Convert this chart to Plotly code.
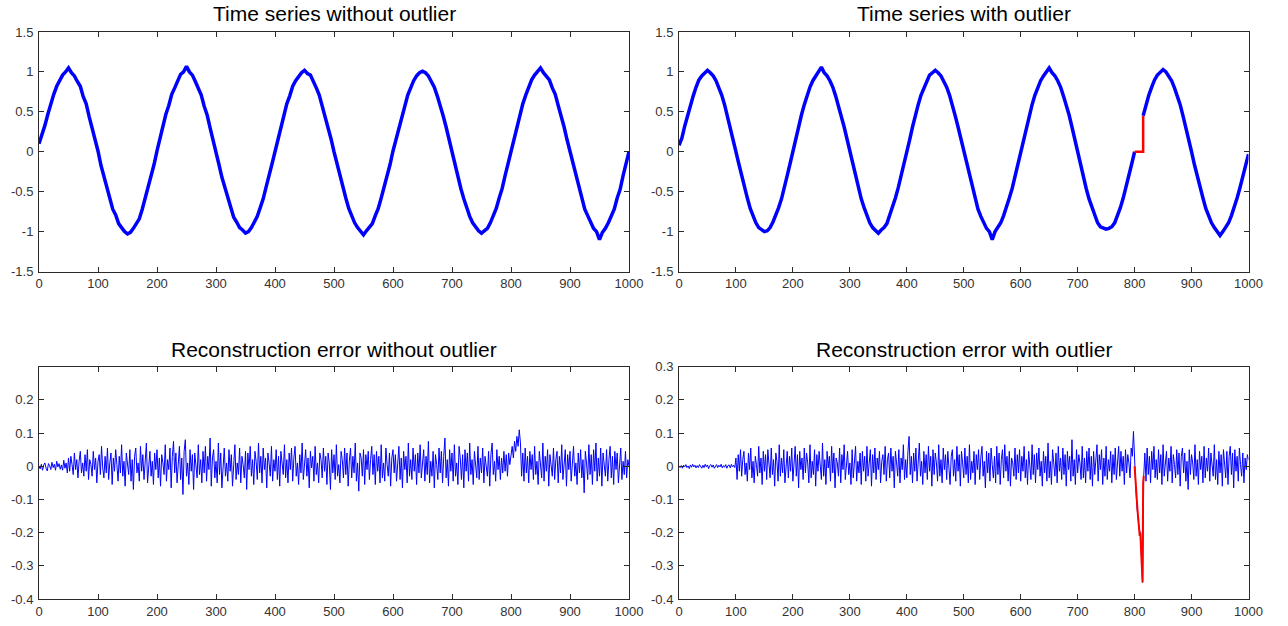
import plotly.graph_objects as go

# ---------------- data ----------------
X_TOP = list(range(0, 1001, 5))
X_ERR = list(range(0, 1001, 2))

ts_clean = [
    0.10, 0.20, 0.33, 0.47, 0.61, 0.72, 0.82, 0.90, 0.96, 1.00, 1.05, 0.99, 0.95, 0.88, 0.82, 0.69, 0.60, 0.44, 0.31, 0.14,
    0.01, -0.17, -0.30, -0.46, -0.60, -0.72, -0.79, -0.90, -0.95, -1.00, -1.03, -1.01, -0.96, -0.90, -0.84, -0.72, -0.58, -0.46, -0.30, -0.16,
    0.01, 0.17, 0.30, 0.47, 0.58, 0.72, 0.80, 0.90, 0.97, 1.00, 1.07, 1.00, 0.96, 0.88, 0.80, 0.71, 0.57, 0.46, 0.30, 0.16,
    -0.02, -0.16, -0.32, -0.45, -0.60, -0.70, -0.82, -0.88, -0.95, -0.98, -1.02, -1.00, -0.95, -0.88, -0.81, -0.70, -0.59, -0.44, -0.31, -0.15,
    0.00, 0.16, 0.31, 0.45, 0.60, 0.70, 0.82, 0.89, 0.95, 0.99, 1.02, 0.98, 0.96, 0.89, 0.80, 0.71, 0.58, 0.46, 0.30, 0.16,
    0.00, -0.15, -0.31, -0.46, -0.58, -0.71, -0.81, -0.89, -0.95, -1.00, -1.04, -0.99, -0.95, -0.90, -0.80, -0.71, -0.58, -0.45, -0.31, -0.16,
    0.01, 0.15, 0.32, 0.45, 0.59, 0.71, 0.80, 0.89, 0.95, 0.99, 1.01, 0.99, 0.95, 0.88, 0.81, 0.70, 0.59, 0.45, 0.31, 0.15,
    -0.01, -0.16, -0.31, -0.46, -0.59, -0.71, -0.81, -0.89, -0.95, -0.99, -1.02, -0.99, -0.96, -0.89, -0.81, -0.71, -0.58, -0.46, -0.30, -0.15,
    0.02, 0.17, 0.31, 0.47, 0.60, 0.71, 0.82, 0.90, 0.96, 1.00, 1.05, 0.99, 0.95, 0.90, 0.80, 0.72, 0.58, 0.46, 0.31, 0.15,
    0.00, -0.16, -0.31, -0.46, -0.59, -0.72, -0.80, -0.89, -0.96, -1.00, -1.10, -1.01, -0.96, -0.89, -0.80, -0.72, -0.58, -0.47, -0.30, -0.15,
    0.00,
]

ts_outlier = [
    0.08, 0.17, 0.32, 0.45, 0.60, 0.70, 0.81, 0.90, 0.95, 0.99, 1.02, 0.99, 0.95, 0.89, 0.80, 0.71, 0.59, 0.45, 0.32, 0.15,
    0.00, -0.15, -0.31, -0.45, -0.58, -0.71, -0.80, -0.89, -0.95, -0.98, -1.00, -0.99, -0.95, -0.88, -0.80, -0.70, -0.59, -0.46, -0.30, -0.15,
    0.01, 0.16, 0.31, 0.46, 0.59, 0.71, 0.81, 0.89, 0.95, 1.00, 1.06, 0.99, 0.95, 0.89, 0.81, 0.70, 0.58, 0.46, 0.31, 0.16,
    0.00, -0.16, -0.31, -0.46, -0.59, -0.70, -0.81, -0.89, -0.95, -0.99, -1.02, -0.98, -0.95, -0.90, -0.80, -0.71, -0.58, -0.45, -0.31, -0.16,
    0.00, 0.15, 0.31, 0.46, 0.59, 0.71, 0.80, 0.89, 0.96, 0.99, 1.02, 0.99, 0.95, 0.88, 0.81, 0.71, 0.59, 0.45, 0.31, 0.16,
    0.00, -0.16, -0.30, -0.45, -0.59, -0.72, -0.81, -0.89, -0.96, -1.00, -1.10, -1.00, -0.95, -0.89, -0.80, -0.70, -0.58, -0.46, -0.31, -0.15,
    0.00, 0.16, 0.31, 0.45, 0.59, 0.71, 0.81, 0.89, 0.95, 1.00, 1.05, 0.99, 0.95, 0.89, 0.81, 0.70, 0.59, 0.46, 0.31, 0.15,
    0.00, -0.16, -0.31, -0.46, -0.59, -0.70, -0.81, -0.89, -0.94, -0.96, -0.97, -0.96, -0.94, -0.89, -0.80, -0.70, -0.58, -0.45, -0.30, -0.15,
    0.00, None, None, 0.45, 0.60, 0.71, 0.81, 0.90, 0.96, 0.99, 1.03, 1.00, 0.95, 0.89, 0.80, 0.71, 0.59, 0.45, 0.31, 0.16,
    0.00, -0.16, -0.31, -0.46, -0.58, -0.71, -0.81, -0.89, -0.95, -1.00, -1.05, -1.00, -0.95, -0.89, -0.80, -0.70, -0.58, -0.45, -0.30, -0.15,
    -0.03,
]

err_clean = [
    0.000, -0.008, 0.006, -0.012, 0.004, 0.010, -0.006, -0.014, 0.008, 0.002, -0.010, 0.012, -0.004, 0.006, -0.012, 0.015, -0.002, 0.008, -0.009, 0.004,
    -0.012, 0.018, -0.006, 0.010, -0.020, 0.025, -0.015, 0.030, 0.005, -0.025, 0.040, -0.010, 0.020, -0.035, 0.015, 0.045, -0.020, 0.010, -0.030, 0.035,
    -0.015, 0.050, -0.040, 0.020, 0.005, -0.030, 0.045, -0.010, 0.025, -0.050, 0.015, 0.035, -0.025, 0.060, -0.005, -0.035, 0.030, -0.020, 0.055, -0.040,
    0.010, 0.040, -0.055, 0.025, -0.015, 0.050, 0.005, -0.045, 0.030, -0.020, 0.065, -0.030, 0.015, -0.060, 0.040, 0.000, -0.025, 0.050, -0.045, 0.020,
    -0.070, 0.030, 0.055, -0.020, 0.010, -0.045, 0.060, -0.015, 0.035, -0.040, 0.020, 0.070, -0.050, 0.005, 0.045, -0.030, 0.015, -0.055, 0.040, -0.010,
    0.050, -0.035, 0.025, -0.060, 0.035, 0.010, -0.025, 0.065, -0.045, 0.020, -0.010, 0.055, -0.065, 0.030, 0.075, -0.020, 0.040, -0.050, 0.015, 0.060,
    -0.040, 0.025, -0.085, 0.045, 0.080, -0.030, 0.010, -0.055, 0.050, -0.015, 0.035, -0.070, 0.040, 0.005, -0.035, 0.065, -0.025, 0.020, -0.050, 0.045,
    -0.020, 0.060, -0.045, 0.030, -0.010, 0.085, -0.060, 0.025, 0.050, -0.035, 0.015, -0.050, 0.070, -0.025, 0.040, -0.065, 0.020, 0.055, -0.030, 0.010,
    -0.045, 0.050, -0.015, 0.035, -0.060, 0.025, 0.065, -0.040, 0.010, -0.025, 0.055, -0.050, 0.030, 0.005, -0.035, 0.045, -0.070, 0.040, -0.010, 0.060,
    -0.030, 0.020, -0.055, 0.045, 0.015, -0.040, 0.070, -0.020, 0.030, -0.050, 0.055, -0.010, 0.025, -0.065, 0.040, 0.010, -0.030, 0.060, -0.045, 0.020,
    -0.015, 0.050, -0.040, 0.030, -0.060, 0.045, 0.005, -0.025, 0.065, -0.035, 0.020, -0.050, 0.040, -0.010, 0.055, -0.045, 0.025, 0.060, -0.030, 0.010,
    -0.055, 0.035, -0.020, 0.070, -0.040, 0.015, 0.050, -0.030, 0.025, -0.065, 0.045, -0.005, 0.030, -0.045, 0.060, -0.025, 0.010, -0.050, 0.040, 0.020,
    -0.035, 0.055, -0.015, 0.030, -0.055, 0.040, 0.010, -0.070, 0.050, -0.020, 0.035, -0.040, 0.065, -0.030, 0.005, -0.050, 0.045, 0.020, -0.035, 0.055,
    -0.025, 0.040, -0.060, 0.015, 0.055, -0.035, 0.030, -0.020, 0.070, -0.045, 0.010, -0.075, 0.040, 0.025, -0.030, 0.050, -0.055, 0.035, -0.010, 0.045,
    -0.040, 0.020, 0.060, -0.025, 0.035, -0.055, 0.045, -0.015, 0.030, -0.050, 0.065, -0.035, 0.010, -0.045, 0.055, 0.005, -0.030, 0.040, -0.060, 0.025,
    0.050, -0.020, 0.035, -0.045, 0.015, 0.060, -0.040, 0.025, -0.065, 0.045, -0.010, 0.030, -0.050, 0.070, -0.030, 0.020, -0.040, 0.055, -0.015, 0.035,
    -0.055, 0.040, -0.020, 0.065, -0.035, 0.010, 0.050, -0.045, 0.030, -0.025, 0.075, -0.050, 0.015, -0.030, 0.045, -0.065, 0.035, 0.005, -0.040, 0.055,
    -0.020, 0.045, -0.050, 0.030, 0.085, -0.035, 0.020, -0.060, 0.050, -0.015, 0.040, -0.045, 0.065, -0.030, 0.010, -0.055, 0.060, 0.025, -0.040, 0.035,
    -0.065, 0.050, -0.015, 0.040, -0.045, 0.070, -0.025, 0.020, -0.055, 0.045, 0.010, -0.035, 0.060, -0.040, 0.025, -0.020, 0.055, -0.050, 0.030, 0.005,
    -0.030, 0.045, -0.060, 0.035, 0.070, -0.025, 0.015, -0.045, 0.050, -0.010, 0.030, -0.040, 0.025, -0.020, 0.045, -0.015, 0.035, -0.030, 0.040, 0.005,
    0.030, 0.060, 0.025, 0.075, 0.045, 0.090, 0.060, 0.110, 0.070, -0.030, 0.040, -0.045, 0.055, -0.020, 0.030, -0.050, 0.045, -0.010, 0.035, -0.040,
    0.060, -0.025, 0.015, -0.055, 0.045, 0.010, -0.035, 0.070, -0.045, 0.030, -0.015, 0.050, -0.060, 0.035, 0.005, -0.030, 0.055, -0.040, 0.020, 0.045,
    -0.050, 0.030, -0.020, 0.065, -0.040, 0.015, 0.050, -0.060, 0.035, -0.010, 0.045, -0.045, 0.025, 0.060, -0.030, 0.010, -0.055, 0.040, -0.020, 0.050,
    -0.035, 0.020, -0.080, 0.045, 0.010, -0.040, 0.065, -0.025, 0.035, -0.055, 0.050, -0.015, 0.070, -0.045, 0.025, -0.030, 0.055, -0.060, 0.040, 0.005,
    -0.030, 0.050, -0.045, 0.020, 0.060, -0.035, 0.030, -0.055, 0.045, -0.010, 0.040, -0.050, 0.025, 0.055, -0.040, 0.015, -0.025, 0.045, -0.035, 0.020,
    0.000,
]

err_outlier = [
    0.000, -0.004, 0.002, -0.006, 0.003, -0.002, 0.005, -0.004, 0.001, -0.007, 0.004, -0.003, 0.006, -0.002, 0.003, -0.005, 0.002, -0.004, 0.005, -0.001,
    -0.006, 0.003, -0.004, 0.006, -0.002, 0.004, -0.007, 0.002, 0.005, -0.003, 0.004, -0.006, 0.001, 0.005, -0.004, 0.003, -0.002, 0.006, -0.005, 0.002,
    -0.003, 0.005, -0.006, 0.002, 0.004, -0.005, 0.006, -0.002, 0.003, -0.004, 0.025, -0.040, 0.035, -0.015, 0.050, -0.030, 0.020, 0.045, -0.025, 0.010,
    -0.045, 0.040, -0.010, 0.055, -0.035, 0.015, -0.050, 0.030, 0.005, -0.030, 0.060, -0.020, 0.025, -0.055, 0.045, -0.015, 0.035, -0.040, 0.050, 0.010,
    -0.035, 0.055, -0.025, 0.020, -0.060, 0.040, 0.015, -0.045, 0.065, -0.030, 0.025, -0.020, 0.050, -0.050, 0.010, 0.045, -0.035, 0.030, -0.015, 0.055,
    -0.045, 0.020, 0.060, -0.030, 0.035, -0.065, 0.045, -0.010, 0.025, -0.040, 0.055, -0.020, 0.040, 0.010, -0.050, 0.065, -0.035, 0.015, -0.025, 0.050,
    -0.060, 0.035, -0.015, 0.045, 0.005, -0.040, 0.070, -0.030, 0.020, -0.055, 0.045, -0.005, 0.030, -0.045, 0.060, -0.020, 0.040, -0.065, 0.025, 0.010,
    -0.030, 0.055, -0.050, 0.035, -0.010, 0.065, -0.040, 0.020, 0.045, -0.025, 0.010, -0.055, 0.050, -0.035, 0.030, 0.060, -0.045, 0.015, -0.020, 0.040,
    -0.055, 0.045, -0.015, 0.030, -0.045, 0.060, -0.030, 0.010, 0.050, -0.060, 0.035, -0.020, 0.055, -0.040, 0.025, -0.010, 0.045, -0.050, 0.015, 0.035,
    -0.025, 0.060, -0.045, 0.020, 0.040, -0.035, 0.055, -0.015, 0.030, -0.065, 0.045, 0.010, -0.030, 0.050, -0.050, 0.025, -0.010, 0.065, -0.040, 0.020,
    -0.035, 0.045, 0.090, -0.025, 0.030, -0.050, 0.040, -0.015, 0.055, -0.045, 0.025, 0.070, -0.030, 0.015, -0.055, 0.045, -0.020, 0.035, -0.040, 0.060,
    -0.015, 0.030, -0.060, 0.050, -0.025, 0.040, 0.010, -0.045, 0.065, -0.030, 0.020, -0.050, 0.055, -0.010, 0.035, -0.040, 0.045, 0.005, -0.055, 0.030,
    0.050, -0.030, 0.020, -0.045, 0.060, -0.015, 0.035, -0.060, 0.045, 0.010, -0.035, 0.055, -0.025, 0.030, -0.050, 0.065, -0.040, 0.015, -0.020, 0.045,
    -0.055, 0.035, -0.010, 0.050, -0.040, 0.025, 0.060, -0.030, 0.015, -0.065, 0.045, -0.020, 0.040, -0.045, 0.055, 0.005, -0.035, 0.030, -0.050, 0.060,
    -0.025, 0.040, -0.055, 0.020, 0.050, -0.035, 0.065, -0.015, 0.030, -0.045, 0.045, -0.060, 0.025, 0.010, -0.030, 0.055, -0.040, 0.035, -0.020, 0.050,
    -0.045, 0.030, -0.015, 0.060, -0.035, 0.020, -0.055, 0.045, 0.005, -0.040, 0.065, -0.025, 0.035, -0.050, 0.040, -0.010, 0.055, -0.030, 0.015, -0.060,
    0.045, -0.020, 0.030, -0.045, 0.070, -0.035, 0.015, -0.055, 0.050, 0.010, -0.030, 0.040, -0.050, 0.060, -0.015, 0.025, -0.040, 0.055, -0.025, 0.035,
    -0.060, 0.045, -0.010, 0.030, -0.045, 0.080, -0.030, 0.020, -0.055, 0.050, -0.020, 0.035, 0.010, -0.040, 0.060, -0.035, 0.025, -0.050, 0.045, -0.015,
    0.055, -0.040, 0.030, -0.060, 0.045, -0.025, 0.015, 0.065, -0.045, 0.035, -0.010, 0.050, -0.055, 0.025, -0.030, 0.060, -0.040, 0.020, -0.015, 0.045,
    -0.050, 0.035, -0.025, 0.055, -0.040, 0.020, 0.060, -0.030, 0.045, -0.015, 0.030, -0.055, 0.050, -0.020, 0.035, 0.010, -0.035, 0.055, 0.030, 0.105,
    0.000, -0.060, -0.120, -0.150, -0.190, -0.200, -0.280, -0.350, -0.030, 0.040, -0.045, 0.055, -0.025, 0.030, -0.050, 0.045, -0.010, 0.060, -0.035, 0.020,
    -0.040, 0.050, -0.020, 0.035, -0.055, 0.065, -0.030, 0.015, 0.045, -0.045, 0.025, -0.015, 0.060, -0.050, 0.035, 0.005, -0.035, 0.050, -0.025, 0.040,
    -0.060, 0.030, 0.055, -0.020, 0.040, -0.045, 0.015, -0.070, 0.050, -0.025, 0.035, 0.010, -0.040, 0.065, -0.030, 0.020, -0.055, 0.045, -0.010, 0.030,
    -0.050, 0.060, -0.035, 0.025, -0.015, 0.055, -0.045, 0.040, 0.005, -0.030, 0.065, -0.040, 0.020, -0.055, 0.045, -0.020, 0.035, -0.060, 0.050, 0.010,
    -0.035, 0.045, -0.055, 0.030, 0.060, -0.025, 0.040, -0.065, 0.050, -0.015, 0.030, -0.045, 0.055, 0.005, -0.030, 0.040, -0.050, 0.025, -0.010, 0.035,
    0.020,
]

# outlier segments (highlighted in red)
out_ts_x = [800, 815, 815]
out_ts_y = [0.0, 0.0, 0.45]
out_err_x = list(range(800, 817))
out_err_y = [0.00, -0.03, -0.06, -0.10, -0.12, -0.13, -0.15, -0.17, -0.19, -0.21,
             -0.20, -0.24, -0.28, -0.33, -0.35, -0.05, -0.03]

titles = ["Time series without outlier", "Time series with outlier",
          "Reconstruction error without outlier", "Reconstruction error with outlier"]
x_ticks = [0, 100, 200, 300, 400, 500, 600, 700, 800, 900, 1000]
ts_ticks = [-1.5, -1, -0.5, 0, 0.5, 1, 1.5]
ts_tick_text = ["-1.5", "-1", "-0.5", "0", "0.5", "1", "1.5"]
err_ticks_left = [-0.4, -0.3, -0.2, -0.1, 0, 0.1, 0.2]
err_ticks_right = [-0.4, -0.3, -0.2, -0.1, 0, 0.1, 0.2, 0.3]

assert len(ts_clean) == len(X_TOP) and len(ts_outlier) == len(X_TOP)
assert len(err_clean) == len(X_ERR), len(err_clean)
assert len(err_outlier) == len(X_ERR), len(err_outlier)
assert len(out_err_x) == len(out_err_y)

# ---------------- figure ----------------
W, H = 1288, 626
BLUE = "#0000FF"
RED = "#FF0000"
AXC = "#2b2b2b"
FONT = "Liberation Sans, Arial, Helvetica, sans-serif"

fig = go.Figure()
fig.add_trace(go.Scatter(x=X_TOP, y=ts_clean, mode="lines", line=dict(color=BLUE, width=3.5), xaxis="x", yaxis="y"))
fig.add_trace(go.Scatter(x=X_TOP, y=ts_outlier, mode="lines", line=dict(color=BLUE, width=3.5), xaxis="x2", yaxis="y2"))
fig.add_trace(go.Scatter(x=out_ts_x, y=out_ts_y, mode="lines", line=dict(color=RED, width=2.5), xaxis="x2", yaxis="y2"))
fig.add_trace(go.Scatter(x=X_ERR, y=err_clean, mode="lines", line=dict(color=BLUE, width=1), xaxis="x3", yaxis="y3"))
fig.add_trace(go.Scatter(x=X_ERR, y=err_outlier, mode="lines", line=dict(color=BLUE, width=1), xaxis="x4", yaxis="y4"))
fig.add_trace(go.Scatter(x=out_err_x, y=out_err_y, mode="lines", line=dict(color=RED, width=2), xaxis="x4", yaxis="y4"))


def px_x(a, b):
    return [a / W, b / W]


def px_y(top, bottom):
    return [1 - bottom / H, 1 - top / H]


dom_x = [px_x(39, 629), px_x(679, 1248.5)]
dom_y = [px_y(32, 271.5), px_y(366.7, 599)]

axis_common = dict(
    showline=True, linecolor=AXC, linewidth=1, mirror="ticks",
    ticks="inside", ticklen=5, tickwidth=1, tickcolor=AXC,
    showgrid=False, zeroline=False, automargin=False,
    tickfont=dict(family=FONT, size=13, color="#333333"),
    fixedrange=True,
)

layout = dict(
    width=W, height=H, margin=dict(l=0, r=0, t=0, b=0, pad=0, autoexpand=False),
    paper_bgcolor="white", plot_bgcolor="white", showlegend=False,
)

names = [("x", "y"), ("x2", "y2"), ("x3", "y3"), ("x4", "y4")]
for i, (xa, ya) in enumerate(names):
    col = i % 2
    row = i // 2
    xkey = "xaxis" + ("" if i == 0 else str(i + 1))
    ykey = "yaxis" + ("" if i == 0 else str(i + 1))
    layout[xkey] = dict(axis_common, domain=dom_x[col], range=[0, 1000], tickvals=x_ticks,
                        anchor=ya, ticklabelstandoff=0)
    if row == 0:
        layout[ykey] = dict(axis_common, domain=dom_y[0], range=[-1.5, 1.5], tickvals=ts_ticks,
                            ticktext=ts_tick_text, anchor=xa, ticklabelstandoff=2)
    else:
        tv = err_ticks_left if col == 0 else err_ticks_right
        layout[ykey] = dict(axis_common, domain=dom_y[1], range=[-0.4, 0.3], tickvals=tv,
                            ticktext=[("%g" % v) for v in tv], anchor=xa, ticklabelstandoff=2)

annotations = []
title_y = [14, 349]
for i, t in enumerate(titles):
    col = i % 2
    row = i // 2
    cx = (dom_x[col][0] + dom_x[col][1]) / 2
    annotations.append(dict(text=t, x=cx, y=1 - title_y[row] / H, xref="paper", yref="paper",
                            xanchor="center", yanchor="middle", showarrow=False,
                            font=dict(family=FONT, size=21, color="black")))
layout["annotations"] = annotations

fig.update_layout(**layout)
fig.write_html("out.html")
